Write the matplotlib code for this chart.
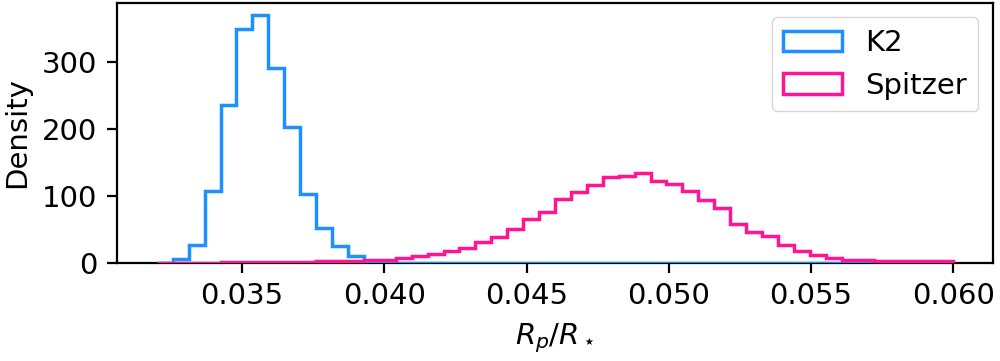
import numpy as np
import matplotlib
matplotlib.use('Agg')
import matplotlib.pyplot as plt

# 50 shared bins between 0.032 and 0.060
edges = np.linspace(0.032, 0.060, 51)

# density per bin
k2_density = [0, 5, 26, 107, 235, 348, 369, 290, 203, 103,
              52, 25, 10, 2, 0, 0, 0, 0, 0, 0,
              0, 0, 0, 0, 0, 0, 0, 0, 0, 0,
              0, 0, 0, 0, 0, 0, 0, 0, 0, 0,
              0, 0, 0, 0, 0, 0, 0, 0, 0, 0]
spitzer_density = [0.3, 0.3, 0.3, 0.3, 0.6, 0.6, 0.6, 1.2, 1.2, 1.2,
                   2.5, 2.5, 2.5, 4, 4, 6.5, 10, 13, 17, 21.5,
                   31, 39, 51, 66, 75, 95, 105, 116, 128, 130,
                   134, 122, 118, 107, 93, 82, 58, 46, 40, 26,
                   17, 12, 7, 4.5, 4.5, 3, 3, 2, 2, 2]

# original looks like a small figure saved at high dpi, so scale everything ~2x
plt.rcParams['font.size'] = 21
plt.rcParams['axes.linewidth'] = 1.6
plt.rcParams['axes.labelpad'] = 8
plt.rcParams['legend.framealpha'] = 0.8

fig, ax = plt.subplots(figsize=(10, 3.61), dpi=100)
fig.subplots_adjust(left=0.117, right=0.993, top=0.992, bottom=0.272)

centers = edges[:-1]
ax.hist(centers, bins=edges, weights=k2_density, histtype='step',
        color='dodgerblue', linewidth=2.5, label='K2', zorder=3)
ax.hist(centers, bins=edges, weights=spitzer_density, histtype='step',
        color='deeppink', linewidth=2.5, label='Spitzer', zorder=3)

ax.set_xticks([0.035, 0.040, 0.045, 0.050, 0.055, 0.060])
ax.set_xticklabels(['0.035', '0.040', '0.045', '0.050', '0.055', '0.060'])
ax.set_yticks([0, 100, 200, 300])
ax.tick_params(length=7, width=1.6, pad=7)

ax.set_xlabel(r'$R_p/R_\star$')
ax.set_ylabel('Density')
ax.legend(loc='upper right')

fig.savefig('out.png', dpi=100)
